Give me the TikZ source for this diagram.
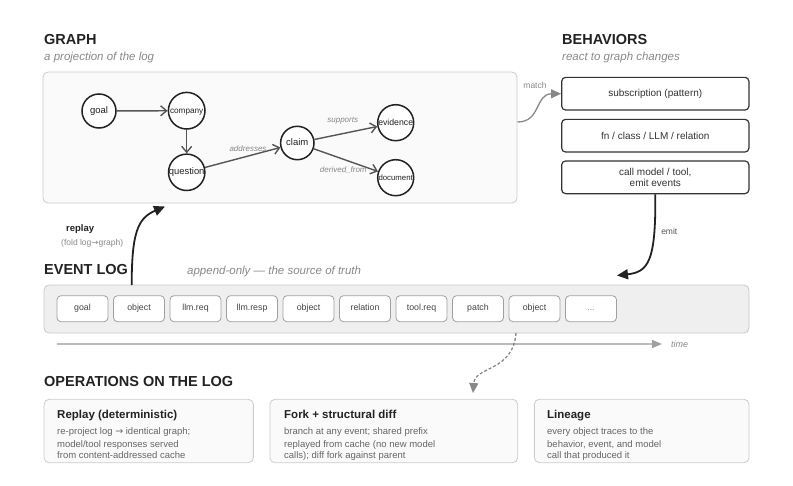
\documentclass[tikz,border=0pt]{standalone}
\usepackage{fontspec}
\setmainfont{Liberation Sans}
\newfontfamily\arrowfont{DejaVu Sans}
\usetikzlibrary{arrows.meta,positioning,calc}
\definecolor{logink}{HTML}{222222}
\definecolor{loggray}{HTML}{888888}
\definecolor{edgegray}{HTML}{555555}
\definecolor{panelfill}{HTML}{FAFAFA}
\definecolor{panelline}{HTML}{CCCCCC}
\definecolor{logfill}{HTML}{EFEFEF}
\definecolor{logline}{HTML}{C8C8C8}
\definecolor{eventline}{HTML}{A0A0A0}
\definecolor{textdark}{HTML}{333333}
\definecolor{textmid}{HTML}{444444}
\definecolor{bodygray}{HTML}{666666}
\definecolor{axisgray}{HTML}{BBBBBB}

\begin{document}
\begin{tikzpicture}[x=1pt, y=-1pt,
	heading/.style={anchor=base west, inner sep=0pt, font=\fontsize{14.5}{17}\selectfont\bfseries, text=logink},
	subhead/.style={anchor=base west, inner sep=0pt, font=\fontsize{11.5}{14}\selectfont\itshape, text=loggray},
	panel/.style={draw=panelline, fill=panelfill, rounded corners=5pt, line width=0.8pt},
	logpanel/.style={draw=logline, fill=logfill, rounded corners=5pt, line width=0.8pt},
	entity/.style={circle, draw=logink, fill=white, line width=1.5pt, inner sep=0pt, text height=6.5pt, text depth=1.8pt, text=logink},
	rel/.style={draw=edgegray, line width=1.4pt, -{Straight Barb[length=6pt,width=10pt]}},
	rellabel/.style={font=\fontsize{8}{9}\selectfont\itshape, text=loggray, inner sep=1pt},
	behavior/.style={draw=textdark, fill=white, rounded corners=4pt, line width=1.2pt, minimum width=187.3pt, minimum height=32.7pt, align=center, font=\fontsize{10}{11.5}\selectfont, text=textdark},
	event/.style={draw=eventline, fill=white, rounded corners=4pt, line width=0.8pt, minimum width=51pt, minimum height=26pt, inner sep=0pt, outer sep=0pt, text height=6.3pt, text depth=1.8pt, font=\fontsize{8.8}{10}\selectfont, text=textmid},
	opbox/.style={draw=panelline, fill=panelfill, rounded corners=5pt, line width=0.8pt, minimum height=63.4pt},
	optitle/.style={anchor=base west, inner sep=0pt, font=\fontsize{11.5}{14}\selectfont\bfseries, text=logink},
	opbody/.style={anchor=north west, inner sep=0pt, align=left, font=\fontsize{9.5}{11.5}\selectfont, text=bodygray},
	flowarrow/.style={draw=logink, line width=1.8pt, -{Triangle[length=11pt,width=10pt]}},
	note/.style={font=\fontsize{8.5}{10}\selectfont, text=edgegray, inner sep=0pt}
]
\useasboundingbox (0,0) rectangle (793,485);

% headings
\node[heading] (graphtitle) at (44,44) {GRAPH};
\node[subhead] (graphsub) at (44,60) {a projection of the log};
\node[heading] (behtitle) at (562,44) {BEHAVIORS};
\node[subhead] (behsubtitle) at (562,60) {react to graph changes};
\node[heading] (logtitle) at (44,274) {EVENT LOG};
\node[subhead] (logsub) at (187,274) {append-only — the source of truth};
\node[heading] (optitlehead) at (44,386) {OPERATIONS ON THE LOG};

% graph projection
\node[panel, minimum width=474pt, minimum height=131pt] (graphpanel) at (280,137.5) {};
\node[entity, minimum size=34pt, font=\fontsize{9.5}{10}\selectfont] (goal) at (99,111) {goal};
\node[entity, minimum size=36.6pt, font=\fontsize{8.2}{9}\selectfont] (company) at (186.7,110.7) {company};
\node[entity, minimum size=36pt, font=\fontsize{9.4}{10}\selectfont] (question) at (186.7,172.3) {question};
\node[entity, minimum size=33.4pt, font=\fontsize{9.5}{10}\selectfont] (claim) at (297.3,143) {claim};
\node[entity, minimum size=36pt, font=\fontsize{8.7}{9}\selectfont] (evidence) at (395.7,122.7) {evidence};
\node[entity, minimum size=36pt, font=\fontsize{7.8}{9}\selectfont] (document) at (395.7,177.7) {document};

\draw[rel] (goal) -- (company);
\draw[rel] (company) -- (question);
\draw[rel] (question) -- node[rellabel, pos=0.57, above=3pt] {addresses} (claim);
\draw[rel] (claim) -- node[rellabel, pos=0.45, above=8pt] {supports} (evidence);
\draw[rel] (claim) -- node[rellabel, pos=0.46, below=6pt] {derived\_from} (document);

% behaviors
\node[behavior] (behpattern) at (655.3,93.7) {subscription (pattern)};
\node[behavior] (behkind) at (655.3,135.7) {fn / class / LLM / relation};
\node[behavior] (behcall) at (655.3,177.3) {call model / tool,\\emit events};

\coordinate (matchstart) at (517.5,122);
\draw[draw=loggray, line width=1.3pt, -{Triangle[length=10pt,width=9pt]}] (matchstart) .. controls (541,122) and (535,94) .. (behpattern.west);
\node[note, text=loggray, anchor=base] (matchlabel) at (535,88) {match};

% event log
\node[logpanel, minimum width=705pt, minimum height=48pt] (logpanel) at (396.5,309) {};
\node[event] (evgoal) at (82.5,308.7) {goal};
\node[event, right=5.5pt of evgoal] (evobject) {object};
\node[event, right=5.5pt of evobject] (evllmreq) {llm.req};
\node[event, right=5.5pt of evllmreq] (evllmresp) {llm.resp};
\node[event, right=5.5pt of evllmresp] (evobjecttwo) {object};
\node[event, right=5.5pt of evobjecttwo] (evrelation) {relation};
\node[event, right=5.5pt of evrelation] (evtoolreq) {tool.req};
\node[event, right=5.5pt of evtoolreq] (evpatch) {patch};
\node[event, right=5.5pt of evpatch] (evobjectthree) {object};
\node[event, right=5.5pt of evobjectthree, text=loggray] (evmore) {...};

% time axis
\coordinate (timestart) at (57,344);
\coordinate (timeend) at (662,344);
\draw[draw=axisgray, line width=1.5pt, -{Triangle[length=10pt,width=8pt,color=loggray!80]}] (timestart) -- (timeend) node[right=5pt, font=\fontsize{9}{10}\selectfont\itshape, text=loggray] (timelabel) {time};

% replay: log to graph
\coordinate (replaystart) at (131.7,285);
\coordinate (replayend) at (165,206.5);
\draw[flowarrow] (replaystart) .. controls (131.7,232) and (138,218) .. (replayend);
\node[anchor=base west, inner sep=0pt, font=\fontsize{9.5}{11}\selectfont\bfseries, text=logink] (replaylabel) at (66,231) {replay};
\node[anchor=base west, inner sep=0pt, font=\fontsize{8.5}{10}\selectfont, text=loggray] (replaynote) at (61,245) {(fold log{\arrowfont →}graph)};

% emit: behaviors to log
\coordinate (emitend) at (617,275.5);
\draw[flowarrow] (behcall.south) .. controls (656,262) and (648,272) .. node[note, pos=0.22, right=6pt] (emitlabel) {emit} (emitend);

% fork from the log
\coordinate (forkstart) at (516,333);
\coordinate (forkend) at (473,393);
\draw[draw=loggray, line width=1.3pt, dash pattern=on 3pt off 2pt, -{Triangle[length=10pt,width=9pt,sep=0pt]}] (forkstart) .. controls (513,372) and (475,366) .. (forkend);

% operations
\node[opbox, minimum width=209.3pt] (opreplay) at (148.7,431) {};
\node[opbox, minimum width=247.7pt] (opfork) at (393.8,431) {};
\node[opbox, minimum width=214.7pt] (oplineage) at (641.7,431) {};

\node[optitle] (opreplaytitle) at (57,418) {Replay (deterministic)};
\node[opbody] (opreplaybody) at (57,427) {re-project log {\arrowfont →} identical graph;\\[1.5pt]model/tool responses served\\from content-addressed cache};
\node[optitle] (opforktitle) at (284,418) {Fork + structural diff};
\node[opbody] (opforkbody) at (284,427) {branch at any event; shared prefix\\[1.5pt]replayed from cache (no new model\\calls); diff fork against parent};
\node[optitle] (oplineagetitle) at (547,418) {Lineage};
\node[opbody] (oplineagebody) at (547,427) {every object traces to the\\[1.5pt]behavior, event, and model\\call that produced it};
\end{tikzpicture}
\end{document}
